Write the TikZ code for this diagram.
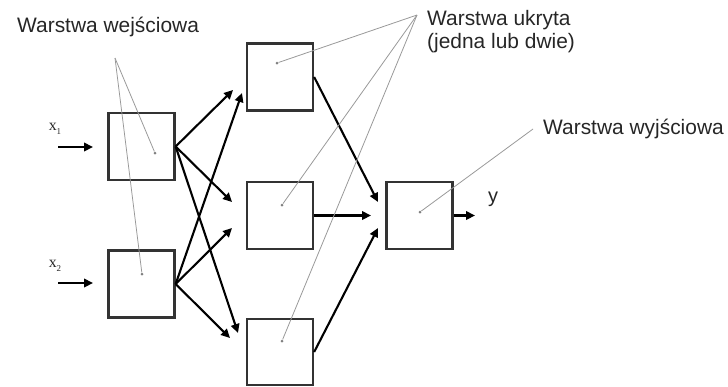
\documentclass[tikz,border=0pt]{standalone}
\usepackage{fontspec}
\setmainfont{Liberation Sans}
\newfontfamily\serifx{Liberation Serif}
\usetikzlibrary{arrows.meta}
\begin{document}
\begin{tikzpicture}[x=1bp,y=-1bp,
  neuron/.style={draw=black!80,line width=2.3bp,minimum width=66bp,minimum height=67bp,inner sep=0pt},
  conn/.style={line width=2.1bp,-{Triangle[length=9bp,width=8.5bp]}},
  pointer/.style={draw=black!40,line width=0.8bp},
  tip/.style={circle,fill=black!50,inner sep=0pt,minimum size=3bp},
  caption/.style={font=\fontsize{21}{23}\selectfont,text=black!85,inner sep=0pt,anchor=base west,align=left},
  inlabel/.style={font=\serifx\fontsize{16}{16}\selectfont,text=black!85,inner sep=0pt}]
\useasboundingbox (0,0) rectangle (728,386);

% neurons
\node[neuron] (in1) at (141.5,146.5) {};
\node[neuron] (in2) at (141.5,284) {};
\node[neuron] (h1) at (280,77) {};
\node[neuron] (h2) at (280,215.5) {};
\node[neuron,minimum height=66bp] (h3) at (280,352) {};
\node[neuron] (out) at (419.5,215.5) {};

% arrow end points in front of the hidden and output neurons
\coordinate (a11) at (233,90);
\coordinate (a21) at (242,93);
\coordinate (a12) at (232,202);
\coordinate (a22) at (232,228);
\coordinate (a13) at (238,333);
\coordinate (a23) at (230,338);
\coordinate (b1) at (378,202);
\coordinate (b2) at (371,215.5);
\coordinate (b3) at (378,228);

% inputs and output
\coordinate (x1s) at (58,147);
\coordinate (x1e) at (93,147);
\coordinate (x2s) at (58,283);
\coordinate (x2e) at (93,283);
\coordinate (ye) at (475,215.5);
\draw[conn] (x1s) -- (x1e);
\draw[conn] (x2s) -- (x2e);
\draw[conn] (out.east) -- (ye);
\node[inlabel] (lx1) at (55,129) {x\raisebox{-3.5bp}{\fontsize{9}{9}\selectfont 1}};
\node[inlabel] (lx2) at (55,266) {x\raisebox{-3.5bp}{\fontsize{9}{9}\selectfont 2}};
\node[font=\fontsize{20}{20}\selectfont,text=black!85,inner sep=0pt] (ly) at (493,199) {y};

% input -> hidden
\draw[conn] (in1.east) -- (a11);
\draw[conn] (in1.east) -- (a12);
\draw[conn] (in1.east) -- (a13);
\draw[conn] (in2.east) -- (a21);
\draw[conn] (in2.east) -- (a22);
\draw[conn] (in2.east) -- (a23);

% hidden -> output
\draw[conn] (h1.east) -- (b1);
\draw[conn] (h2.east) -- (b2);
\draw[conn] (h3.east) -- (b3);

% pointer dots inside the neurons
\node[tip] (d1) at (155,153) {};
\node[tip] (d2) at (142,274) {};
\node[tip] (d3) at (277,63) {};
\node[tip] (d4) at (282,205) {};
\node[tip] (d5) at (282,341) {};
\node[tip] (d6) at (420,212) {};

% pointer apexes
\coordinate (pin) at (115,58);
\coordinate (phid) at (417,15);
\coordinate (pout) at (533,129);

\draw[pointer] (pin) -- (d1);
\draw[pointer] (pin) -- (d2);
\draw[pointer] (phid) -- (d3);
\draw[pointer] (phid) -- (d4);
\draw[pointer] (phid) -- (d5);
\draw[pointer] (pout) -- (d6);

% layer captions
\node[caption] (lin) at (17,32) {Warstwa wejściowa};
\node[caption] (lhid) at (427,48) {Warstwa ukryta\\(jedna lub dwie)};
\node[caption] (lout) at (543,134) {Warstwa wyjściowa};
\end{tikzpicture}
\end{document}
